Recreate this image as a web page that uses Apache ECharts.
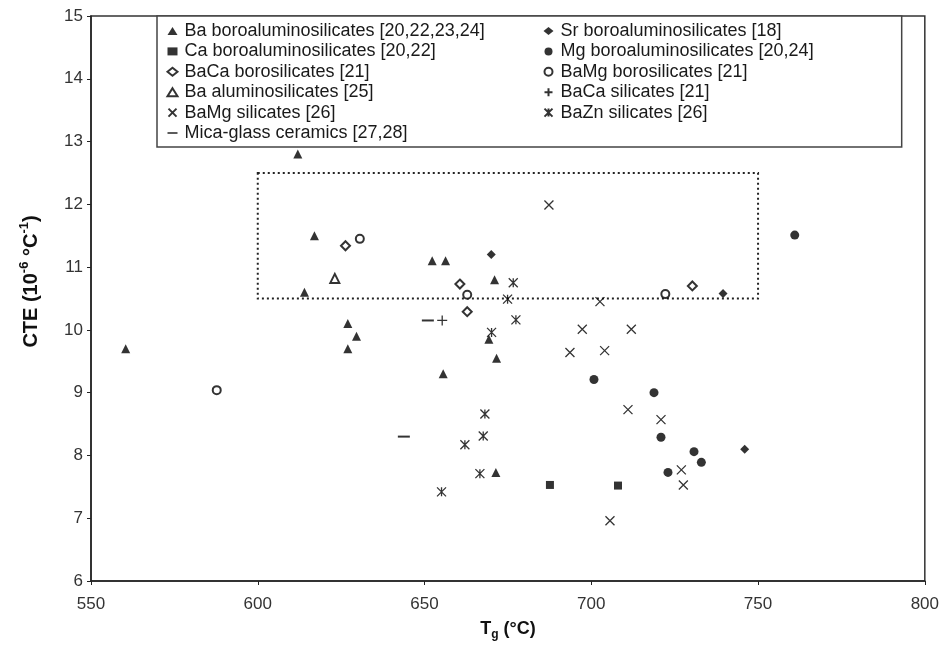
<!DOCTYPE html>
<html><head><meta charset="utf-8">
<script src="https://cdn.jsdelivr.net/npm/echarts@6/dist/echarts.min.js"></script>
<style>html,body{margin:0;padding:0;background:#fff}#c{width:942px;height:646px}</style>
</head><body><div id="c"></div>
<script>
// ---- data ----
const xTicks = [550, 600, 650, 700, 750, 800];
const yTicks = [6, 7, 8, 9, 10, 11, 12, 13, 14, 15];
const names = [
  'Ba boroaluminosilicates [20,22,23,24]',
  'Ca boroaluminosilicates [20,22]',
  'BaCa borosilicates [21]',
  'Ba aluminosilicates [25]',
  'BaMg silicates [26]',
  'Mica-glass ceramics [27,28]',
  'Sr boroaluminosilicates [18]',
  'Mg boroaluminosilicates [20,24]',
  'BaMg borosilicates [21]',
  'BaCa silicates [21]',
  'BaZn silicates [26]'
];
const baBoroAlum = [[612,12.8],[617,11.5],[614,10.6],[627,10.1],[629.6,9.9],[627,9.7],[560.4,9.7],[652.3,11.1],[656.3,11.1],[671,10.8],[669.3,9.85],[671.6,9.55],[655.6,9.3],[671.4,7.73]];
const caBoroAlum = [[687.6,7.53],[708,7.52]];
const baCaBoro = [[626.3,11.34],[660.6,10.73],[662.8,10.29],[730.3,10.7]];
const baAlum = [[623.1,10.82]];
const baMgSil = [[687.3,11.99],[702.6,10.45],[697.3,10.01],[712,10.01],[693.6,9.64],[704,9.67],[711,8.73],[720.9,8.57],[727,7.77],[727.6,7.53],[705.6,6.96]];
const mica = [[651,10.15],[643.8,8.30]];
const srBoroAlum = [[670,11.2],[739.5,10.58],[746,8.1]];
const mgBoroAlum = [[700.8,9.21],[718.8,9.0],[720.9,8.29],[723,7.73],[730.8,8.06],[733,7.89],[761,11.51]];
const baMgBoro = [[630.6,11.45],[662.8,10.56],[587.7,9.04],[722.2,10.57]];
const baCaSil = [[655.3,10.15]];
const baZnSil = [[676.6,10.75],[674.9,10.49],[677.4,10.16],[670.1,9.96],[668.1,8.66],[667.6,8.31],[662.1,8.17],[666.6,7.71],[655.1,7.42]];
const boxX = [600, 750];
const boxY = [10.5, 12.5];

// ---- styling ----
const FONT = '"Liberation Sans", Arial, sans-serif';
const pathX = 'path://M0,0L10,10M10,0L0,10';
const pathStar = 'path://M0,0L10,10M10,0L0,10M5,0L5,10';
const pathPlus = 'path://M5,0L5,10M0,5L10,5';
const pathDash = 'path://M0,0L10,0L10,1.6L0,1.6Z';
const filled = {color: '#000'};
const stroke = {color: 'none', borderColor: '#000', borderWidth: 1.3};
const empty = {color: '#000', borderWidth: 1.2};

function S(name, data, symbol, size, style, extra) {
  return Object.assign({type: 'scatter', name, data, symbol, symbolSize: size, itemStyle: style, z: 3}, extra || {});
}
const series = [
  S(names[0], baBoroAlum, 'triangle', 9, filled, {
    markArea: {silent: true,
      itemStyle: {color: 'rgba(0,0,0,0)', borderColor: '#222', borderWidth: 2, borderType: [2, 3]},
      data: [[{coord: [boxX[0], boxY[1]]}, {coord: [boxX[1], boxY[0]]}]]}
  }),
  S(names[1], caBoroAlum, 'rect', 8, filled),
  S(names[2], baCaBoro, 'emptyDiamond', 9, empty),
  S(names[3], baAlum, 'emptyTriangle', 9, empty),
  S(names[4], baMgSil, pathX, 9, stroke),
  S(names[5], mica, pathDash, [12, 2], filled, {symbolKeepAspect: false}),
  S(names[6], srBoroAlum, 'diamond', 9, filled),
  S(names[7], mgBoroAlum, 'circle', 9, filled),
  S(names[8], baMgBoro, 'emptyCircle', 8, empty),
  S(names[9], baCaSil, pathPlus, 10, stroke),
  S(names[10], baZnSil, pathStar, 9, stroke)
];

const legendText = {
  fontSize: 18, fontFamily: FONT, color: '#1a1a1a',
  rich: {t: {fontSize: 18, fontFamily: FONT, color: '#1a1a1a', width: 345, padding: [0, 0, 0, 2]}}
};
function legendData(list) {
  return list.map(n => n === names[5] ? {name: n, icon: pathDash} : {name: n});
}

const chart = echarts.init(document.getElementById('c'), null, {renderer: 'canvas'});
chart.setOption({
  animation: false,
  backgroundColor: '#fff',
  grid: {left: 91, right: 16, top: 16, bottom: 65, show: true, borderColor: '#333', borderWidth: 1.5, backgroundColor: 'transparent'},
  legend: [
    {orient: 'vertical', left: 157, top: 16, padding: [6, 417, 5, 9], itemGap: 2.4,
     itemWidth: 10, itemHeight: 8, textStyle: legendText,
     backgroundColor: '#fff', borderColor: '#444', borderWidth: 1.5,
     formatter: n => '{t|' + n + '}',
     data: legendData(names.slice(0, 6)),
     selectedMode: false},
    {orient: 'vertical', left: 542, top: 22, padding: 0, itemGap: 2.4,
     itemWidth: 10, itemHeight: 8, textStyle: legendText,
     formatter: n => '{t|' + n + '}',
     data: legendData(names.slice(6)),
     selectedMode: false}
  ],
  xAxis: {
    type: 'value', min: xTicks[0], max: xTicks[xTicks.length - 1], interval: 50,
    name: '{b|T}{s|g}{b| (°C)}', nameLocation: 'middle', nameGap: 36,
    nameTextStyle: {rich: {
      b: {fontSize: 18, fontWeight: 'bold', fontFamily: FONT, color: '#111', lineHeight: 24, verticalAlign: 'middle'},
      s: {fontSize: 12, fontWeight: 'bold', fontFamily: FONT, color: '#111', lineHeight: 24, verticalAlign: 'bottom'}
    }},
    axisLine: {lineStyle: {color: '#222', width: 1.5}},
    axisTick: {show: true, length: 4, lineStyle: {color: '#222'}},
    axisLabel: {fontSize: 17, fontFamily: FONT, color: '#333', margin: 15},
    splitLine: {show: false}
  },
  yAxis: {
    type: 'value', min: yTicks[0], max: yTicks[yTicks.length - 1], interval: 1,
    name: '{b|CTE (10}{p|-6}{b| °C}{p|-1}{b|)}', nameLocation: 'middle', nameGap: 47,
    nameTextStyle: {padding: [0, 0, 0, 34], rich: {
      b: {fontSize: 20, fontWeight: 'bold', fontFamily: FONT, color: '#111', lineHeight: 26, verticalAlign: 'middle'},
      p: {fontSize: 13, fontWeight: 'bold', fontFamily: FONT, color: '#111', lineHeight: 26, verticalAlign: 'top'}
    }},
    axisLine: {lineStyle: {color: '#222', width: 1.5}},
    axisTick: {show: true, length: 4, lineStyle: {color: '#222'}},
    axisLabel: {fontSize: 17, fontFamily: FONT, color: '#333', margin: 8},
    splitLine: {show: false}
  },
  series: series
});
</script>
</body></html>
